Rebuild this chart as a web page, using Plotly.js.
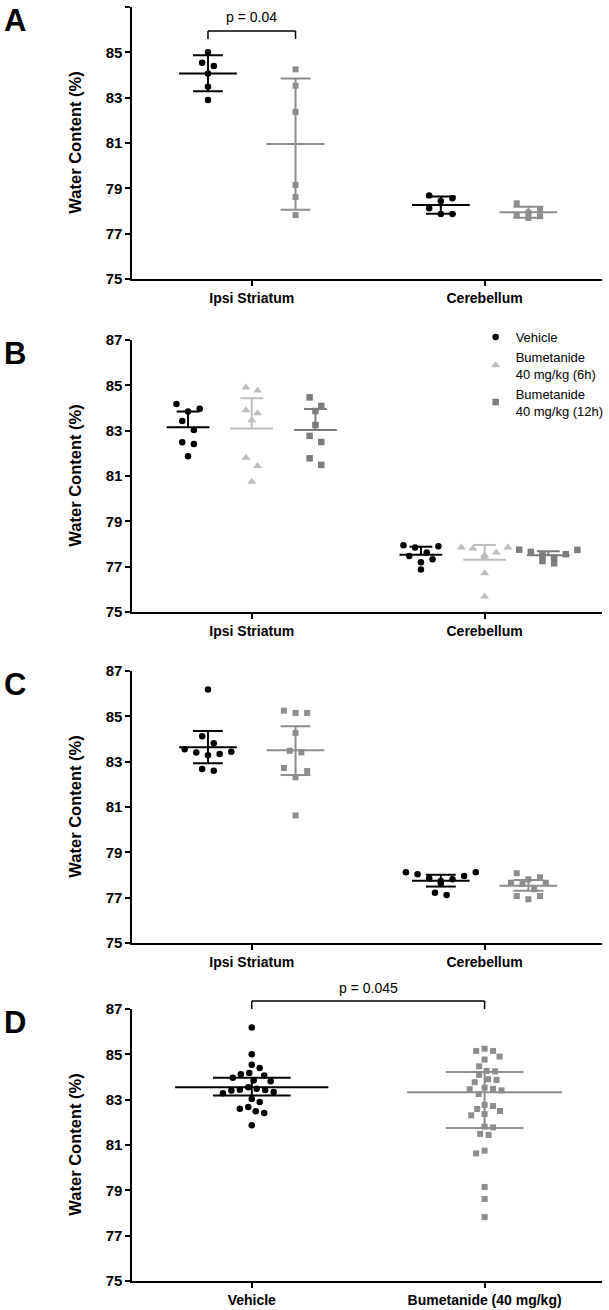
<!DOCTYPE html>
<html><head><meta charset="utf-8">
<script src="https://cdn.plot.ly/plotly-3.0.1.min.js"></script>
<style>html,body{margin:0;padding:0;background:#fff}#chart{width:609px;height:1310px}</style>
</head><body><div id="chart"></div>
<script>
// ---------- categories / labels ----------
const regions = ['Ipsi Striatum', 'Cerebellum'];
const pooledCategories = ['Vehicle', 'Bumetanide (40 mg/kg)'];
const legendNames = ['Vehicle', 'Bumetanide<br>40 mg/kg (6h)', 'Bumetanide<br>40 mg/kg (12h)'];
const panelLetters = ['A', 'B', 'C', 'D'];
const yTicks = [75, 77, 79, 81, 83, 85, 87];
const pLabels = ['p = 0.04', 'p = 0.045'];

// ---------- Panel A (vehicle vs bumetanide) ----------
const aVehIpsi = [85.00, 84.54, 84.40, 84.07, 83.48, 82.90];
const aBumIpsi = [84.25, 83.53, 82.37, 79.15, 78.62, 77.82];
const aVehCer  = [78.68, 78.56, 78.44, 78.12, 77.87, 77.87];
const aBumCer  = [78.34, 78.09, 77.93, 77.81, 77.77, 77.69];
// [centre, low, high]
const aVehIpsiStat = [84.07, 83.28, 84.87];
const aBumIpsiStat = [80.96, 78.06, 83.85];
const aVehCerStat  = [78.27, 77.88, 78.64];
const aBumCerStat  = [77.94, 77.70, 78.19];

// ---------- Panel B (vehicle, 6h, 12h) ----------
const bVehIpsi = [84.18, 83.97, 83.85, 83.43, 83.03, 82.49, 82.41, 81.87];
const b6Ipsi   = [84.90, 84.77, 83.90, 83.77, 83.46, 81.81, 81.44, 80.75];
const b12Ipsi  = [84.47, 84.09, 83.87, 83.25, 82.77, 82.50, 81.78, 81.49];
const bVehCer  = [77.95, 77.90, 77.85, 77.62, 77.47, 77.33, 77.20, 76.88];
const b6Cer    = [77.85, 77.85, 77.80, 77.62, 77.50, 77.40, 76.71, 75.68];
const b12Cer   = [77.75, 77.74, 77.65, 77.55, 77.50, 77.40, 77.25, 77.15];
// [centre, high] (upper bars only)
const bVehIpsiStat = [83.15, 83.85];
const b6IpsiStat   = [83.10, 84.43];
const b12IpsiStat  = [83.03, 83.96];
const bVehCerStat  = [77.53, 77.88];
const b6CerStat    = [77.30, 77.96];
const b12CerStat   = [77.50, 77.68];

// ---------- Panel C ----------
const cVehIpsi = [86.18, 84.12, 83.81, 83.55, 83.44, 83.40, 83.34, 83.28, 82.68, 82.60];
const cBumIpsi = [85.25, 85.15, 85.15, 84.27, 83.48, 83.41, 82.72, 82.59, 82.31, 80.63];
const cVehCer  = [78.12, 78.12, 78.03, 77.96, 77.86, 77.81, 77.74, 77.64, 77.22, 77.12];
const cBumCer  = [78.08, 77.90, 77.81, 77.66, 77.66, 77.60, 77.37, 77.07, 77.07, 76.93];
const cVehIpsiStat = [83.64, 82.93, 84.35];
const cBumIpsiStat = [83.50, 82.41, 84.56];
const cVehCerStat  = [77.75, 77.49, 78.01];
const cBumCerStat  = [77.53, 77.30, 77.78];

// ---------- Panel D (pooled striatum) ----------
const dVeh = [].concat(aVehIpsi, bVehIpsi, cVehIpsi);
const dBum = [].concat(aBumIpsi, b6Ipsi, b12Ipsi, cBumIpsi);
const dVehStat = [83.55, 83.18, 83.97];
const dBumStat = [83.33, 81.75, 84.22];

// ---------- geometry / style ----------
const W = 609, H = 1310;
const PLOT_L = 133, PLOT_R = 605;
const panels = [{top: 7, bottom: 279}, {top: 340, bottom: 612}, {top: 671, bottom: 943}, {top: 1009, bottom: 1281}];
const XSPAN = PLOT_R - PLOT_L;
const catX = [120, 354];
const FONT = 'Liberation Sans, Arial, Helvetica, sans-serif';
const BLACK = '#000000', GREY = '#8d8d8d', LIGHT = '#bebebe', DARK = '#7c7c7c';
const px = v => v / W;
const py = v => 1 - v / H;

function swarmRows(values, ppu, rowH, step) {
  const idx = values.map((v, i) => i).sort((a, b) => values[b] - values[a]);
  const offs = new Array(values.length).fill(0);
  let row = [], start = null;
  const flush = () => {
    const n = row.length, slots = [];
    for (let i = 0; i < n; i++) slots.push((i - (n - 1) / 2) * step);
    slots.sort((a, b) => Math.abs(b) - Math.abs(a) || a - b);
    row.forEach((k, j) => offs[k] = slots[j]);
    row = [];
  };
  idx.forEach(k => {
    const y = values[k] * ppu;
    if (row.length && start - y > rowH) flush();
    if (!row.length) start = y;
    row.push(k);
  });
  flush();
  return offs;
}
function swarmCollide(values, ppu, d) {
  const idx = values.map((v, i) => i).sort((a, b) => values[b] - values[a]);
  const offs = new Array(values.length).fill(0);
  const placed = [];
  let pref = 1;
  idx.forEach(k => {
    const y = values[k] * ppu;
    for (let m = 0; m < 200; m += 0.5) {
      const cands = m === 0 ? [0] : [pref * m, -pref * m];
      let found = null;
      for (const s of cands) {
        if (placed.every(p => (p.x - s) ** 2 + (p.y - y) ** 2 >= d * d)) { found = s; break; }
      }
      if (found !== null) {
        offs[k] = found; placed.push({x: found, y: y});
        if (found !== 0) pref = -Math.sign(found);
        break;
      }
    }
  });
  return offs;
}

const traces = [];
function addGroup(p, cx, values, stat, st) {
  const ax = p === 0 ? '' : String(p + 1);
  const ppu = (panels[p].bottom - panels[p].top) / 12;
  const offs = st.collide ? swarmCollide(values, ppu, st.d) : swarmRows(values, ppu, 9.5, st.step);
  traces.push({
    type: 'scatter', mode: 'markers', xaxis: 'x' + ax, yaxis: 'y' + ax,
    x: values.map((v, i) => cx + offs[i]), y: values, cliponaxis: false,
    marker: {symbol: st.symbol, size: st.size, color: st.color, line: {width: 0}},
    name: st.name || '', showlegend: !!st.legend, hoverinfo: 'y'
  });
  const c = stat[0];
  const lo = stat.length === 3 ? stat[1] : null;
  const hi = stat.length === 3 ? stat[2] : stat[1];
  traces.push({
    type: 'scatter', mode: 'lines', xaxis: 'x' + ax, yaxis: 'y' + ax, cliponaxis: false,
    x: [cx - st.mw, cx + st.mw], y: [c, c], line: {color: st.color, width: 2},
    showlegend: false, hoverinfo: 'skip'
  });
  const ex = [cx, cx, null, cx - st.cw, cx + st.cw];
  const ey = [lo === null ? c : lo, hi, null, hi, hi];
  if (lo !== null) { ex.push(null, cx - st.cw, cx + st.cw); ey.push(null, lo, lo); }
  traces.push({
    type: 'scatter', mode: 'lines', xaxis: 'x' + ax, yaxis: 'y' + ax, cliponaxis: false,
    x: ex, y: ey, line: {color: st.color, width: 2}, showlegend: false, hoverinfo: 'skip'
  });
}

const styVehAC = {symbol: 'circle', size: 6.5, color: BLACK, step: 11.7, mw: 29, cw: 15};
const styBumAC = {symbol: 'square', size: 6, color: GREY, step: 11.7, mw: 29, cw: 15};
const sB = (o) => Object.assign({step: 11.7, mw: 21.5, cw: 11.5}, o);

// A
addGroup(0, catX[0] - 44, aVehIpsi, aVehIpsiStat, styVehAC);
addGroup(0, catX[0] + 44, aBumIpsi, aBumIpsiStat, styBumAC);
addGroup(0, catX[1] - 44, aVehCer, aVehCerStat, styVehAC);
addGroup(0, catX[1] + 44, aBumCer, aBumCerStat, styBumAC);
// B
addGroup(1, catX[0] - 64, bVehIpsi, bVehIpsiStat, sB({symbol: 'circle', size: 6.5, color: BLACK, name: legendNames[0], legend: true}));
addGroup(1, catX[0], b6Ipsi, b6IpsiStat, sB({symbol: 'triangle-up', size: 8, color: LIGHT, name: legendNames[1], legend: true}));
addGroup(1, catX[0] + 64, b12Ipsi, b12IpsiStat, sB({symbol: 'square', size: 6.5, color: DARK, name: legendNames[2], legend: true}));
addGroup(1, catX[1] - 64, bVehCer, bVehCerStat, sB({symbol: 'circle', size: 6.5, color: BLACK}));
addGroup(1, catX[1], b6Cer, b6CerStat, sB({symbol: 'triangle-up', size: 8, color: LIGHT}));
addGroup(1, catX[1] + 64, b12Cer, b12CerStat, sB({symbol: 'square', size: 6.5, color: DARK}));
// C
addGroup(2, catX[0] - 44, cVehIpsi, cVehIpsiStat, styVehAC);
addGroup(2, catX[0] + 44, cBumIpsi, cBumIpsiStat, styBumAC);
addGroup(2, catX[1] - 44, cVehCer, cVehCerStat, styVehAC);
addGroup(2, catX[1] + 44, cBumCer, cBumCerStat, styBumAC);
// D
addGroup(3, catX[0], dVeh, dVehStat, {symbol: 'circle', size: 6.5, color: BLACK, collide: true, d: 8.5, mw: 77, cw: 39});
addGroup(3, catX[1], dBum, dBumStat, {symbol: 'square', size: 6, color: GREY, collide: true, d: 8.5, mw: 78, cw: 39});

const layout = {
  width: W, height: H, margin: {l: 0, r: 0, t: 0, b: 0},
  paper_bgcolor: '#fff', plot_bgcolor: 'rgba(0,0,0,0)',
  font: {family: FONT, color: '#000'},
  showlegend: true,
  legend: {x: px(478), y: py(322), xanchor: 'left', yanchor: 'top', font: {family: FONT, size: 13, color: '#000'},
           bgcolor: 'rgba(0,0,0,0)', borderwidth: 0, tracegroupgap: 2, itemwidth: 30},
  annotations: [], shapes: []
};
panels.forEach((pn, i) => {
  const ax = i === 0 ? '' : String(i + 1);
  layout['xaxis' + ax] = {
    domain: [px(PLOT_L), px(PLOT_R)], range: [0, XSPAN], anchor: 'y' + ax,
    tickmode: 'array', tickvals: catX, ticktext: i === 3 ? pooledCategories : regions,
    ticks: 'outside', ticklen: 5, tickwidth: 2, tickcolor: '#000',
    showline: true, linewidth: 2, linecolor: '#000', showgrid: false, zeroline: false,
    tickfont: {family: FONT, size: 14, weight: 'bold', color: '#000'}, fixedrange: true
  };
  layout['yaxis' + ax] = {
    domain: [py(pn.bottom), py(pn.top)], range: [75, 87], anchor: 'x' + ax,
    tickmode: 'array', tickvals: yTicks, ticktext: yTicks.map(String),
    ticks: 'outside', ticklen: 5, tickwidth: 2, tickcolor: '#000',
    showline: true, linewidth: 2, linecolor: '#000', showgrid: false, zeroline: false,
    tickfont: {family: FONT, size: 15, weight: 'bold', color: '#000'}, fixedrange: true
  };
  layout.annotations.push({
    xref: 'paper', yref: 'paper', x: px(75), y: py((pn.top + pn.bottom) / 2),
    text: 'Water Content (%)', textangle: -90, showarrow: false,
    font: {family: FONT, size: 16.5, weight: 'bold', color: '#000'}, xanchor: 'center', yanchor: 'middle'
  });
  layout.annotations.push({
    xref: 'paper', yref: 'paper', x: px(2), y: py(pn.top + 13),
    text: panelLetters[i], showarrow: false,
    font: {family: FONT, size: 31, weight: 'bold', color: '#000'}, xanchor: 'left', yanchor: 'middle'
  });
});
// significance brackets
function bracket(ax, x0, x1, yTop, yLeg, label, labelY) {
  const common = {type: 'line', xref: 'x' + ax, yref: 'paper', line: {color: '#000', width: 1.5}};
  layout.shapes.push(Object.assign({x0: x0, x1: x1, y0: py(yTop), y1: py(yTop)}, common));
  layout.shapes.push(Object.assign({x0: x0, x1: x0, y0: py(yTop), y1: py(yLeg)}, common));
  layout.shapes.push(Object.assign({x0: x1, x1: x1, y0: py(yTop), y1: py(yLeg)}, common));
  layout.annotations.push({xref: 'x' + ax, yref: 'paper', x: (x0 + x1) / 2, y: py(labelY), text: label,
    showarrow: false, font: {family: FONT, size: 14, color: '#000'}, xanchor: 'center', yanchor: 'middle'});
}
bracket('', catX[0] - 44, catX[0] + 44, 31, 39, pLabels[0], 17);
bracket('4', catX[0], catX[1], 1001, 1009, pLabels[1], 988);

Plotly.newPlot('chart', traces, layout, {displayModeBar: false, staticPlot: true});
</script></body></html>
